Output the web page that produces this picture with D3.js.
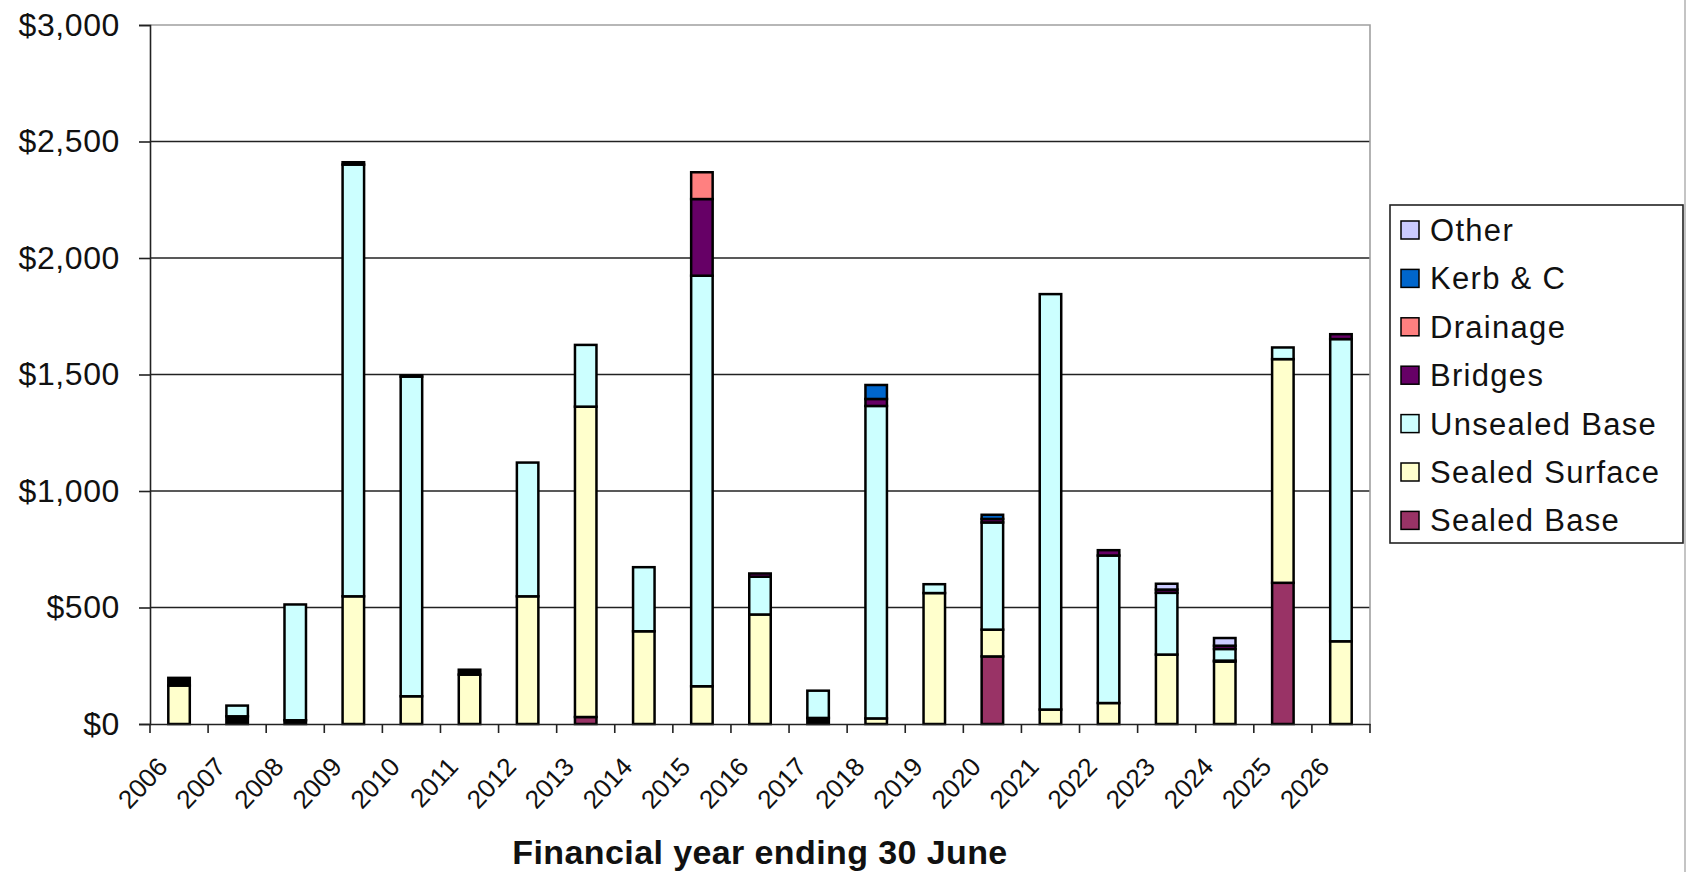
<!DOCTYPE html>
<html>
<head>
<meta charset="utf-8">
<script src="https://cdn.jsdelivr.net/npm/d3@7"></script>
<style>
  body { margin: 0; background: #fff; }
  svg { display: block; font-family: Arial, "Liberation Sans", sans-serif; }
</style>
</head>
<body>
<svg id="chart" width="1688" height="872"></svg>
<script>
// Categories (financial years)
const years = ["2006", "2007", "2008", "2009", "2010", "2011", "2012", "2013", "2014", "2015", "2016",
  "2017", "2018", "2019", "2020", "2021", "2022", "2023", "2024", "2025", "2026"];

// Series values ($'000), bottom of stack first
const sealedBase     = [0, 0, 0, 0, 0, 0, 0, 30, 0, 0, 0, 0, 0, 0, 290, 0, 0, 0, 0, 606, 0];
const sealedSurface  = [165, 0, 0, 548, 119, 212, 548, 1332, 398, 162, 470, 0, 24, 562, 115, 62, 90, 298, 268, 960, 355];
const unlisted       = [33, 33, 16, 0, 0, 21, 0, 0, 0, 0, 0, 26, 0, 0, 0, 0, 0, 0, 4, 0, 0];
const unsealedBase   = [0, 46, 497, 1853, 1372, 0, 574, 265, 275, 1762, 162, 117, 1341, 38, 460, 1783, 633, 265, 50, 50, 1297];
const bridges        = [0, 0, 0, 10, 5, 0, 0, 0, 0, 329, 14, 0, 30, 0, 15, 0, 23, 14, 14, 0, 21];
const drainage       = [0, 0, 0, 0, 0, 0, 0, 0, 0, 115, 0, 0, 0, 0, 0, 0, 0, 0, 0, 0, 0];
const kerbC          = [0, 0, 0, 0, 0, 0, 0, 0, 0, 0, 0, 0, 60, 0, 18, 0, 0, 0, 0, 0, 0];
const other          = [0, 0, 0, 0, 0, 0, 0, 0, 0, 0, 0, 0, 0, 0, 0, 0, 0, 25, 33, 0, 0];

const yTicks = [0, 500, 1000, 1500, 2000, 2500, 3000];

const series = [
  { key: "Sealed Base", values: sealedBase, color: "#993366", legend: true },
  { key: "Sealed Surface", values: sealedSurface, color: "#FFFFCC", legend: true },
  { key: "unlisted", values: unlisted, color: "#000000", legend: false },
  { key: "Unsealed Base", values: unsealedBase, color: "#CCFFFF", legend: true },
  { key: "Bridges", values: bridges, color: "#660066", legend: true },
  { key: "Drainage", values: drainage, color: "#FF8080", legend: true },
  { key: "Kerb & C", values: kerbC, color: "#0066CC", legend: true },
  { key: "Other", values: other, color: "#CCCCFF", legend: true }
];

const margin = { top: 25, right: 318, bottom: 148, left: 150 };
const width = 1688 - margin.left - margin.right;
const height = 872 - margin.top - margin.bottom;

const svg = d3.select("#chart");
const g = svg.append("g").attr("transform", `translate(${margin.left},${margin.top})`);

// Build table for the stack
const table = years.map((y, i) => {
  const row = { year: y };
  series.forEach(s => { row[s.key] = s.values[i]; });
  return row;
});

const stacked = d3.stack().keys(series.map(s => s.key))(table);

const x = d3.scaleBand().domain(years).range([0, width]).padding(0);
const y = d3.scaleLinear().domain([0, 3000]).range([height, 0]);

// Gridlines
g.append("g")
  .selectAll("line")
  .data(yTicks.filter(t => t > 0 && t < 3000))
  .enter().append("line")
  .attr("x1", 0).attr("x2", width)
  .attr("y1", d => y(d)).attr("y2", d => y(d))
  .attr("stroke", "#222").attr("stroke-width", 1.6);

// Plot area border (top and right)
g.append("path")
  .attr("d", `M0,${y(3000)}H${width}V${height}`)
  .attr("fill", "none")
  .attr("stroke", "#a0a0a0")
  .attr("stroke-width", 1.6);

// Bars
const barW = x.bandwidth() * 0.37;
const layers = g.append("g").selectAll("g")
  .data(stacked)
  .enter().append("g")
  .attr("fill", (d, i) => series[i].color);

layers.selectAll("rect")
  .data(d => d.filter(p => p[1] - p[0] > 0))
  .enter().append("rect")
  .attr("x", d => x(d.data.year) + (x.bandwidth() - barW) / 2)
  .attr("y", d => y(d[1]))
  .attr("width", barW)
  .attr("height", d => y(d[0]) - y(d[1]))
  .attr("stroke", "#000")
  .attr("stroke-width", 2.5);

// Y axis
const yAxis = g.append("g")
  .call(d3.axisLeft(y).tickValues(yTicks).tickSize(11).tickPadding(19)
    .tickFormat(d => "$" + d3.format(",")(d)));
yAxis.select(".domain").attr("stroke", "#222").attr("stroke-width", 1.6);
yAxis.selectAll(".tick line").attr("stroke", "#222").attr("stroke-width", 1.6);
yAxis.selectAll("text")
  .attr("fill", "#111")
  .style("font-size", "32px")
  .style("letter-spacing", "0.6px");

// X axis
const xAxis = g.append("g")
  .attr("transform", `translate(0,${height})`)
  .call(d3.axisBottom(x).tickSize(0).tickFormat(""));
xAxis.select(".domain").attr("stroke", "#222").attr("stroke-width", 1.6);

// category boundary ticks
xAxis.append("g")
  .selectAll("line")
  .data(d3.range(years.length + 1))
  .enter().append("line")
  .attr("x1", i => i * x.step()).attr("x2", i => i * x.step())
  .attr("y1", 0).attr("y2", 9)
  .attr("stroke", "#222").attr("stroke-width", 1.6);

xAxis.append("g")
  .selectAll("text")
  .data(years)
  .enter().append("text")
  .attr("transform", d => `translate(${x(d) + x.bandwidth() / 2 - 10},${44}) rotate(-47)`)
  .attr("text-anchor", "end")
  .attr("fill", "#111")
  .style("font-size", "26px")
  .text(d => d);

// X axis title
svg.append("text")
  .attr("x", 760)
  .attr("y", 864)
  .attr("text-anchor", "middle")
  .attr("fill", "#111")
  .style("font-size", "34px")
  .style("font-weight", "bold")
  .style("letter-spacing", "0.4px")
  .text("Financial year ending 30 June");

// Legend
const legendItems = series.filter(s => s.legend).slice().reverse();
const legend = svg.append("g").attr("transform", "translate(1390,205)");
legend.append("rect")
  .attr("width", 293).attr("height", 338)
  .attr("fill", "#fff")
  .attr("stroke", "#222").attr("stroke-width", 1.6);

const item = legend.selectAll(".item")
  .data(legendItems)
  .enter().append("g")
  .attr("transform", (d, i) => `translate(11,${25 + i * 48.4})`);
item.append("rect")
  .attr("x", 0).attr("y", -9)
  .attr("width", 18).attr("height", 18)
  .attr("fill", d => d.color)
  .attr("stroke", "#000").attr("stroke-width", 1.5);
item.append("text")
  .attr("x", 29).attr("y", 11)
  .attr("fill", "#111")
  .style("font-size", "31px")
  .style("letter-spacing", "1.3px")
  .text(d => d.key);

// Chart outer edge on the right
svg.append("line")
  .attr("x1", 1685).attr("x2", 1685)
  .attr("y1", 0).attr("y2", 872)
  .attr("stroke", "#b0b0b0").attr("stroke-width", 1.5);
</script>
</body>
</html>
